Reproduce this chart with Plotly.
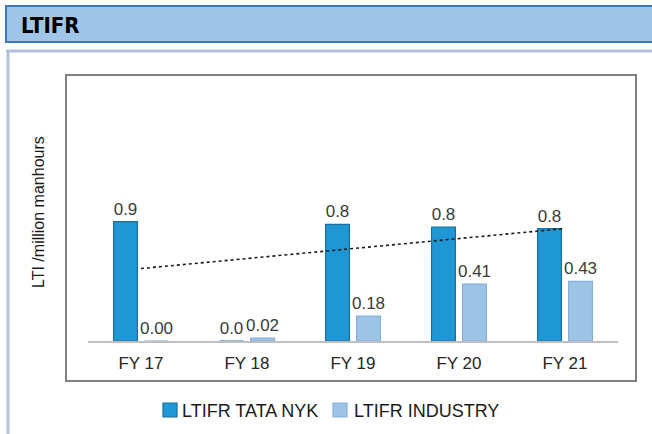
import numpy as np
import plotly.graph_objects as go

categories = ["FY 17", "FY 18", "FY 19", "FY 20", "FY 21"]
tata_nyk = [0.86, 0.0, 0.84, 0.82, 0.81]
industry = [0.00, 0.02, 0.18, 0.41, 0.43]
series_names = ["LTIFR TATA NYK", "LTIFR INDUSTRY"]
title_text = "LTIFR"
y_title = "LTI /million manhours"

W, H = 652, 434
L, R, T, B = 88, 34, 105, 93
PW, PH = W - L - R, H - T - B
Y_MAX = 1.7


def px_x(px):
    return (px - L) / PW


def px_y(py):
    return (H - B - py) / PH


FONT = "Liberation Sans, Arial, sans-serif"
NARROW = "Liberation Sans Narrow, DejaVu Sans Condensed, Arial Narrow, sans-serif"
COLORS = ["#1f97d4", "#9dc3e6"]
EDGES = ["#1a6e9e", "#86b0d8"]

# linear trendline of the TATA NYK series
idx = np.arange(len(categories))
slope, icpt = np.polyfit(idx, tata_nyk, 1)
trend = [icpt, icpt + slope * idx[-1]]

fig = go.Figure()
fig.add_trace(go.Bar(
    x=categories, y=tata_nyk, name=series_names[0],
    marker=dict(color=COLORS[0], line=dict(color=EDGES[0], width=1.2)),
    texttemplate="%{y:.1f}", textposition="outside", constraintext="none",
    textfont=dict(size=17, color="#3a3a3a", family=FONT), cliponaxis=False,
))
fig.add_trace(go.Bar(
    x=categories, y=industry, name=series_names[1],
    marker=dict(color=COLORS[1], line=dict(color=EDGES[1], width=1.2)),
    texttemplate="%{y:.2f}", textposition="outside", constraintext="none",
    textfont=dict(size=17, color="#3a3a3a", family=FONT), cliponaxis=False,
))
fig.add_trace(go.Scatter(
    x=[categories[0], categories[-1]], y=trend, mode="lines",
    line=dict(color="#1a1a1a", width=1.6, dash="dot"),
    showlegend=False, hoverinfo="skip",
))

shapes = [
    # header band
    dict(type="rect", xref="paper", yref="paper", layer="below",
         x0=px_x(6), x1=px_x(660), y0=px_y(6), y1=px_y(42),
         fillcolor="#9fc5e8", line=dict(color="#3d78b4", width=2)),
    # panel top border
    dict(type="line", xref="paper", yref="paper", layer="below",
         x0=px_x(6), x1=px_x(660), y0=px_y(51), y1=px_y(51),
         line=dict(color="#b3c3dc", width=3)),
    # panel left border
    dict(type="line", xref="paper", yref="paper", layer="below",
         x0=px_x(8), x1=px_x(8), y0=px_y(51), y1=px_y(440),
         line=dict(color="#b3c3dc", width=3)),
    # inner chart box
    dict(type="rect", xref="paper", yref="paper", layer="below",
         x0=px_x(66), x1=px_x(636), y0=px_y(75), y1=px_y(381),
         line=dict(color="#808080", width=2)),
]

annotations = [
    dict(text=f"<b>{title_text}</b>", xref="paper", yref="paper",
         x=px_x(19), y=px_y(25), xanchor="left", yanchor="middle",
         showarrow=False, font=dict(size=22, color="#000000", family=NARROW)),
    dict(text=y_title, xref="paper", yref="paper", textangle=-90,
         x=px_x(38), y=px_y(212), xanchor="center", yanchor="middle",
         showarrow=False, font=dict(size=16, color="#1a1a1a", family=FONT)),
]

# legend drawn as swatches + labels
legend_items = [(163, 180), (333, 352)]
for (sx, tx), name, col, edge in zip(legend_items, series_names, COLORS, EDGES):
    shapes.append(dict(type="rect", xref="paper", yref="paper",
                       x0=px_x(sx), x1=px_x(sx + 14), y0=px_y(403), y1=px_y(417),
                       fillcolor=col, line=dict(color=edge, width=1.2)))
    annotations.append(dict(text=name, xref="paper", yref="paper",
                            x=px_x(tx), y=px_y(411), xanchor="left", yanchor="middle",
                            showarrow=False,
                            font=dict(size=18, color="#1a1a1a", family=FONT)))

fig.update_layout(
    width=W, height=H,
    margin=dict(l=L, r=R, t=T, b=B, autoexpand=False),
    paper_bgcolor="white", plot_bgcolor="rgba(0,0,0,0)",
    barmode="group", bargap=0.415, bargroupgap=0.23,
    shapes=shapes, annotations=annotations,
    font=dict(family=FONT, color="#1a1a1a"),
    showlegend=False,
    xaxis=dict(showline=True, linecolor="#bfbfbf", linewidth=1.5,
               showgrid=False, ticks="", ticklabelstandoff=6, automargin=False,
               tickfont=dict(size=17, color="#262626", family=FONT)),
    yaxis=dict(range=[0, Y_MAX], visible=False, showgrid=False),
)

fig.write_html("out.html", config={"displayModeBar": False},
               post_script="document.body.style.margin='0';")
